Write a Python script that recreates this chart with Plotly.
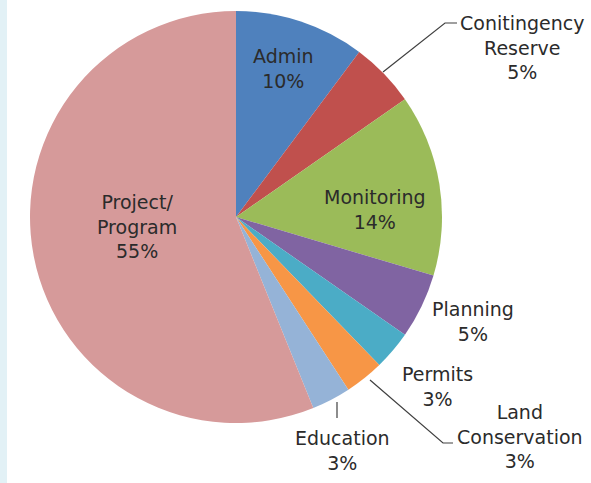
import plotly.graph_objects as go

# ---- data ----
labels = ["Admin", "Conitingency<br>Reserve", "Monitoring", "Planning", "Permits",
          "Land<br>Conservation", "Education", "Project/<br>Program"]
values = [10, 5, 14, 5, 3, 3, 3, 55]
colors = ["#4F81BD", "#C0504D", "#9BBB59", "#8064A2", "#4BACC6",
          "#F79646", "#95B3D7", "#D69A9A"]

# label block centres in pixels (x, y from top)
label_pos = [(283, 69), (522, 48), (375, 209), (473, 321), (437, 386),
             (520, 436), (342, 450), (137, 227)]

W, H = 591, 483
CX, CY, R = 236, 217, 206


def px(x):
    return x / W


def py(y):
    return 1 - y / H


fig = go.Figure(go.Pie(
    labels=labels,
    values=values,
    sort=False,
    direction="clockwise",
    rotation=0,
    marker=dict(colors=colors, line=dict(width=0)),
    textinfo="none",
    hoverinfo="label+value",
    showlegend=False,
    domain=dict(x=[px(CX - R), px(CX + R)], y=[py(CY + R), py(CY - R)]),
))

annotations = []
for lab, val, (x, y) in zip(labels, values, label_pos):
    annotations.append(dict(
        x=px(x), y=py(y), xref="paper", yref="paper",
        text=f"{lab}<br>{val}%", showarrow=False,
        xanchor="center", yanchor="middle", align="center",
        font=dict(family="DejaVu Sans", size=19, color="#2B2B2B"),
    ))

line_style = dict(color="#404040", width=1.2)
shapes = [
    # left decorative strip
    dict(type="rect", xref="paper", yref="paper", x0=0, x1=px(7), y0=0, y1=1,
         fillcolor="#E2F1F6", line=dict(width=0), layer="below"),
    # leader lines
    dict(type="path", xref="paper", yref="paper",
         path=f"M {px(383)} {py(72)} L {px(445)} {py(23)} L {px(457)} {py(23)}",
         line=line_style),
    dict(type="path", xref="paper", yref="paper",
         path=f"M {px(370)} {py(380)} L {px(443)} {py(443)} L {px(453)} {py(443)}",
         line=line_style),
    dict(type="line", xref="paper", yref="paper",
         x0=px(337), x1=px(337), y0=py(402), y1=py(418), line=line_style),
]

fig.update_layout(
    width=W, height=H,
    margin=dict(l=0, r=0, t=0, b=0),
    paper_bgcolor="white", plot_bgcolor="white",
    annotations=annotations,
    shapes=shapes,
)

fig.write_html("out.html",
               config={"displayModeBar": False},
               post_script="document.body.style.margin='0';document.body.style.overflow='hidden';")
